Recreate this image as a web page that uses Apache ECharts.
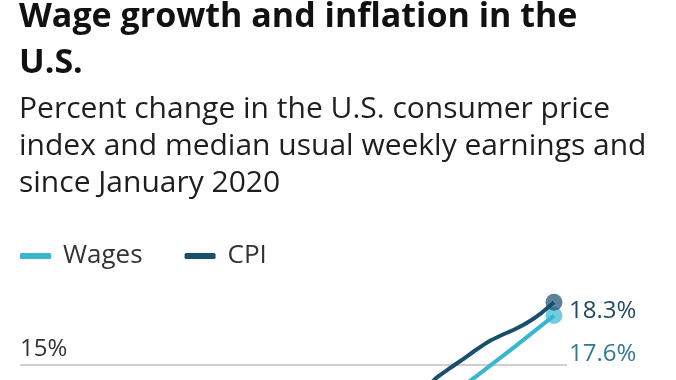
<!DOCTYPE html>
<html>
<head>
<meta charset="utf-8">
<script src="https://cdn.jsdelivr.net/npm/echarts@6/dist/echarts.min.js"></script>
<style>
html,body{margin:0;padding:0;background:#fff;overflow:hidden;}
#chart{width:676px;height:700px;}
</style>
</head>
<body>
<div id="chart"></div>
<script>
// Monthly categories Jan 2020 .. Jul 2023
const months = [];
for (let y = 2020; y <= 2023; y++) {
  for (let m = 1; m <= 12; m++) {
    if (y === 2023 && m > 7) break;
    months.push(y + '-' + String(m).padStart(2, '0'));
  }
}
// CPI: percent change since Jan 2020 (monthly)
const cpiValues = [0,0.3,0.1,-0.6,-0.7,-0.1,0.4,0.7,0.8,0.9,0.9,1.0,
  1.4,2.2,2.9,3.7,4.5,5.5,6.0,6.2,6.5,7.3,7.8,8.1,
  8.8,9.7,10.9,11.5,12.4,13.1,13.4,13.7,14.34,14.83,15.3,15.79,
  16.24,16.58,16.88,17.25,17.72,18.3];
// Wages: median usual weekly earnings, percent change (quarterly; nulls between)
const wageMonths = ['2020-01','2020-03','2020-06','2020-09','2020-12','2021-03','2021-06','2021-09','2021-12','2022-03','2022-06','2022-09','2022-12','2023-03','2023-06'];
const wageValues = [0,1.5,7.6,5.8,5.6,6.6,5.8,6.4,7.4,9.3,10.6,12.9,14.39,15.97,17.6];
const yTicks = [0,5,10,15,20];

const FONT = 'Open Sans';
const wageColor = '#35b7d0';
const cpiColor = '#194e6c';

function withEndDot(arr, color) {
  let last = -1;
  arr.forEach((v, i) => { if (v !== null && v !== undefined) last = i; });
  return arr.map((v, i) => i === last ? {
    value: v, symbol: 'circle', symbolSize: 17,
    itemStyle: { color: color, opacity: 0.7 }
  } : v);
}
const wageSeries = months.slice(0, cpiValues.length).map(m => {
  const k = wageMonths.indexOf(m);
  return k >= 0 ? wageValues[k] : null;
});

const chart = echarts.init(document.getElementById('chart'), null, { renderer: 'canvas' });
chart.setOption({
  animation: false,
  title: [{
    text: 'Wage growth and inflation in the\nU.S.',
    left: 19, top: -6, padding: 0,
    textStyle: { fontFamily: FONT, fontWeight: 700, fontSize: 34, lineHeight: 46, color: '#111' }
  }, {
    text: 'Percent change in the U.S. consumer price\nindex and median usual weekly earnings and\nsince January 2020',
    left: 19, top: 91, padding: 0,
    textStyle: { fontFamily: FONT, fontWeight: 400, fontSize: 30, lineHeight: 37, color: '#1e1e1e' }
  }],
  legend: {
    left: 20, top: 243, padding: 0,
    itemWidth: 31, itemHeight: 6, itemGap: 42,
    icon: 'roundRect',
    textStyle: { fontFamily: FONT, fontSize: 26, color: '#333', padding: [0, 0, 0, 7] },
    data: ['Wages', 'CPI']
  },
  grid: { left: 20, right: 109, top: 270, height: 380 },
  xAxis: {
    type: 'category', data: months, boundaryGap: false,
    axisLine: { show: false }, axisTick: { show: false }, axisLabel: { show: false }
  },
  yAxis: {
    type: 'value', min: yTicks[0], max: yTicks[yTicks.length - 1], interval: 5,
    axisLine: { show: false }, axisTick: { show: false },
    axisLabel: {
      inside: true, verticalAlign: 'bottom', margin: 0, padding: [0, 0, 4, 0],
      showMaxLabel: false, formatter: '{value}%',
      fontFamily: FONT, fontSize: 24, color: '#333'
    },
    splitLine: { showMaxLine: false, lineStyle: { color: '#cfcfcf', width: 2 } }
  },
  series: [{
    name: 'Wages', type: 'line', data: withEndDot(wageSeries, wageColor),
    connectNulls: true, symbol: 'none', showAllSymbol: true,
    color: wageColor, lineStyle: { width: 4, color: wageColor },
    endLabel: {
      show: true, formatter: p => p.value + '%', offset: [7, 39],
      fontFamily: FONT, fontSize: 24, color: '#2e7a8e'
    },
    z: 2
  }, {
    name: 'CPI', type: 'line', data: withEndDot(cpiValues, cpiColor),
    symbol: 'none', showAllSymbol: true, smooth: 0.25,
    color: cpiColor, lineStyle: { width: 4, color: cpiColor },
    endLabel: {
      show: true, formatter: p => p.value + '%', offset: [7, 9],
      fontFamily: FONT, fontSize: 24, color: '#1f4c60'
    },
    z: 3
  }]
});
</script>
</body>
</html>
